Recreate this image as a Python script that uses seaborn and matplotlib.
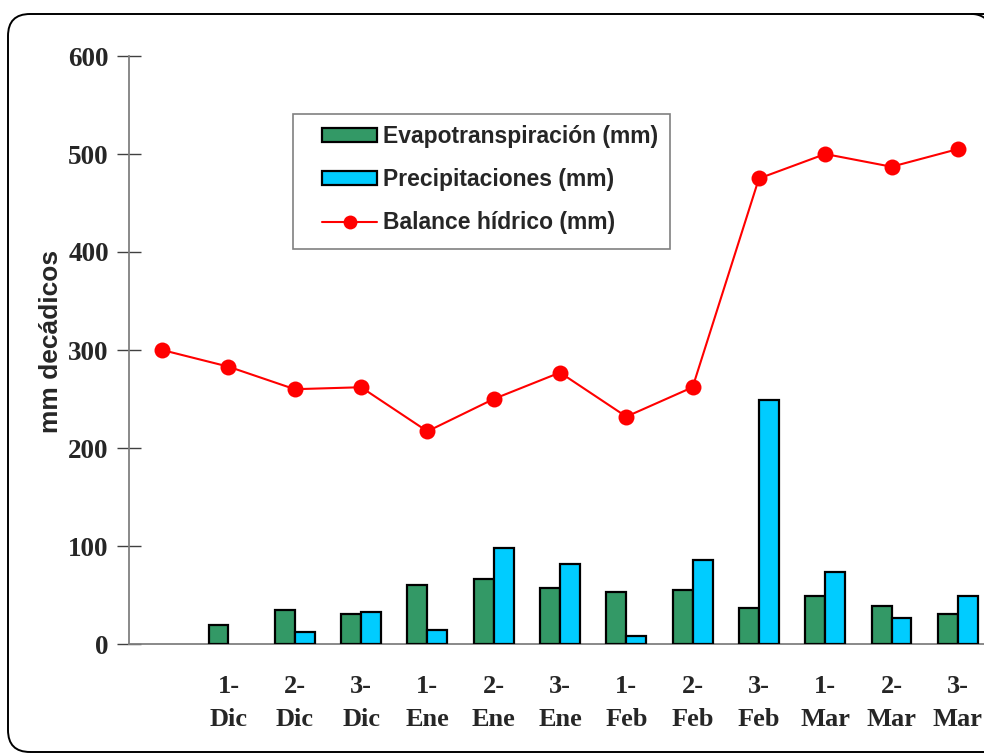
import numpy as np
import pandas as pd
import matplotlib
matplotlib.use("Agg")
import matplotlib.pyplot as plt
import seaborn as sns
from matplotlib.patches import FancyBboxPatch, Patch, Rectangle
from matplotlib.lines import Line2D

# Ten-day periods (decades); the first slot is the starting point of the balance
periods = ["", "1-\nDic", "2-\nDic", "3-\nDic", "1-\nEne", "2-\nEne", "3-\nEne",
           "1-\nFeb", "2-\nFeb", "3-\nFeb", "1-\nMar", "2-\nMar", "3-\nMar"]
evapotranspiracion = [np.nan, 19, 35, 31, 60, 66, 57, 53, 55, 37, 49, 39, 31]
precipitaciones = [np.nan, 0, 12, 33, 14, 98, 82, 8, 86, 249, 73, 27, 49]
balance_hidrico = [300, 283, 260, 262, 217, 250, 277, 232, 262, 475, 500, 487, 505]
y_ticks = [0, 100, 200, 300, 400, 500, 600]

serie_evap = "Evapotranspiración (mm)"
serie_prec = "Precipitaciones (mm)"
serie_bal = "Balance hídrico (mm)"

sns.set_style("white")
plt.rcParams["font.family"] = ["Liberation Sans", "DejaVu Sans"]

W, H = 984, 754
fig = plt.figure(figsize=(W / 100, H / 100), dpi=100)


def fx(px):
    return px / W


def fy(py):
    return (H - py) / H


# rounded frame around the whole chart (its right edge runs past the canvas)
radius = 22
frame = FancyBboxPatch((fx(8), fy(752)), fx(1030) - fx(8), fy(14) - fy(752),
                       boxstyle=f"round,pad=0,rounding_size={radius / W}",
                       mutation_aspect=W / H, transform=fig.transFigure,
                       facecolor="none", edgecolor="black", linewidth=1.4,
                       zorder=0)
fig.patches.append(frame)
# top-right corner of the frame, the part that reaches into the canvas
corner = np.linspace(0, np.pi / 2, 20)
fig.add_artist(Line2D(fx(972 + radius * np.sin(corner)),
                      fy(14 + radius * (1 - np.cos(corner))),
                      transform=fig.transFigure, color="black", linewidth=1.4))

ax_left, ax_right, ax_top, ax_bottom = 129, 991, 56, 644
ax = fig.add_axes([fx(ax_left), fy(ax_bottom),
                   fx(ax_right) - fx(ax_left), fy(ax_top) - fy(ax_bottom)])
ax.set_facecolor("none")

keys = [f"p{i}" for i in range(len(periods))]
df = pd.DataFrame({
    "periodo": keys * 2,
    "serie": [serie_evap] * len(keys) + [serie_prec] * len(keys),
    "mm": evapotranspiracion + precipitaciones,
})

colors = {serie_evap: "#339966", serie_prec: "#00CCFF"}
sns.barplot(data=df, x="periodo", y="mm", hue="serie", order=keys,
            hue_order=[serie_evap, serie_prec], palette=colors, saturation=1,
            width=0.6, edgecolor="black", linewidth=1.6, legend=False, ax=ax,
            zorder=3)
# empty periods get no visible bar outline
for bar in ax.patches:
    if not np.isfinite(bar.get_height()) or bar.get_height() == 0:
        bar.set_visible(False)

sns.lineplot(x=np.arange(len(periods)), y=balance_hidrico, color="#FF0000",
             linewidth=1.5, marker="o", markersize=11.5, markeredgewidth=0,
             ax=ax, zorder=4, legend=False)

ax.set_xlim(-0.5, len(periods) - 0.5)
ax.set_ylim(0, 600)
ax.set_yticks(y_ticks)
ax.set_yticklabels([str(v) for v in y_ticks], family="Liberation Serif",
                   fontweight="bold", fontsize=19.5)

# ticks at the boundaries between periods, labels centred on each period
ax.set_xticks(np.arange(0.5, len(periods) - 0.5, 1.0))
ax.set_xticklabels([])
ax.set_xticks(np.arange(len(periods)), minor=True)
ax.set_xticklabels(periods, minor=True, family="Liberation Serif",
                   fontweight="bold", fontsize=19, linespacing=1.55)
ax.tick_params(axis="x", which="major", direction="inout", length=17,
               width=1, color="#404040")
ax.tick_params(axis="x", which="minor", length=0, pad=22.5)
ax.tick_params(axis="y", which="major", direction="inout", length=17,
               width=1, color="#404040", pad=6, left=True)

for side in ["top", "right"]:
    ax.spines[side].set_visible(False)
for side in ["left", "bottom"]:
    ax.spines[side].set_color("#808080")
    ax.spines[side].set_linewidth(1.3)

ax.set_xlabel("")
ax.set_ylabel("mm decádicos", fontsize=19, fontweight="bold")
ax.yaxis.set_label_coords((63 - ax_left) / (ax_right - ax_left),
                          (ax_bottom - 341) / (ax_bottom - ax_top))

# legend box drawn as its own rectangle, entries placed inside it
fig.patches.append(Rectangle((fx(293), fy(249)), fx(670) - fx(293), fy(114) - fy(249),
                             transform=fig.transFigure, facecolor="white",
                             edgecolor="#808080", linewidth=1.2, zorder=5))
handles = [
    Patch(facecolor="#339966", edgecolor="black", linewidth=1.6),
    Patch(facecolor="#00CCFF", edgecolor="black", linewidth=1.6),
    Line2D([0], [0], color="#FF0000", linewidth=1.5, marker="o",
           markersize=10, markeredgewidth=0),
]
leg = fig.legend(handles, [serie_evap, serie_prec, serie_bal],
                 loc="upper left", bbox_to_anchor=(fx(322), fy(125)),
                 bbox_transform=fig.transFigure, frameon=False,
                 prop={"weight": "bold", "size": 16.5}, handlelength=2.4,
                 handleheight=0.55, handletextpad=0.26, labelspacing=0.88,
                 borderpad=0, borderaxespad=0)
leg.set_zorder(6)

fig.savefig("out.png", dpi=100)
